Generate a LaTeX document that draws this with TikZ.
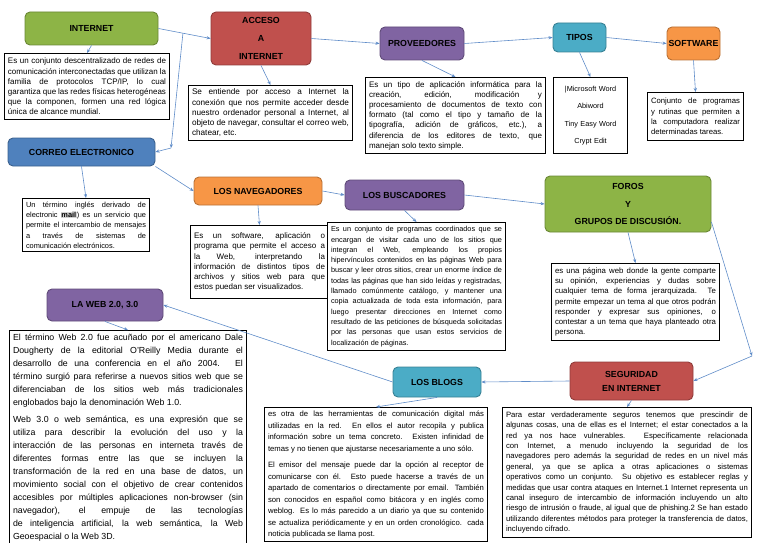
\documentclass[tikz,border=0pt]{standalone}
\usepackage{fontspec}
\setmainfont{Liberation Sans}
\usetikzlibrary{arrows.meta,calc}
\definecolor{cgreen}{RGB}{141,180,70}
\definecolor{cred}{RGB}{192,80,77}
\definecolor{cpurple}{RGB}{128,100,162}
\definecolor{cteal}{RGB}{75,172,198}
\definecolor{corange}{RGB}{247,150,70}
\definecolor{cblue}{RGB}{79,129,189}
\definecolor{arrowblue}{RGB}{95,140,200}
\hyphenpenalty=10000
\exhyphenpenalty=10000
\tolerance=9999
\emergencystretch=3em
\newcommand{\lb}{\linebreak}
\tikzset{
  hbox/.style={rounded corners=5pt, draw=#1!75!black, fill=#1, line width=0.9pt,
    font=\bfseries\fontsize{8.8}{10}\selectfont, align=center, inner sep=1pt},
  tbox/.style={draw=black, line width=1pt, fill=white, align=justify, inner sep=3.5pt,
    anchor=north west},
  fs/.style={font=\fontsize{#1}{10.2}\selectfont},
  arr/.style={-{Stealth[length=4pt,width=3.2pt]}, draw=arrowblue, line width=0.6pt}
}
\begin{document}
\begin{tikzpicture}[x=1pt,y=-1pt]
\useasboundingbox (0,0) rectangle (768,543);

% heading boxes
\node[hbox=cgreen, minimum width=133pt, minimum height=33pt] (internet) at (91.5,28.5) {INTERNET};
\node[hbox=cred, minimum width=100pt, minimum height=53pt, font=\bfseries\fontsize{8.8}{18}\selectfont] (acceso) at (261,38.5) {ACCESO\\A\\INTERNET};
\node[hbox=cpurple, minimum width=84pt, minimum height=33pt] (prov) at (422,43.5) {PROVEEDORES};
\node[hbox=cteal, minimum width=53pt, minimum height=29pt] (tipos) at (579.5,37.5) {TIPOS};
\node[hbox=corange, minimum width=53pt, minimum height=33pt, inner sep=0pt] (soft) at (693.5,43.5) {SOFTWARE};
\node[hbox=cblue, minimum width=147pt, minimum height=28pt] (correo) at (81.5,152) {CORREO ELECTRONICO};
\node[hbox=corange, minimum width=128pt, minimum height=28pt] (nav) at (258,191) {LOS NAVEGADORES};
\node[hbox=cpurple, minimum width=119pt, minimum height=30pt] (busc) at (404.5,195) {LOS BUSCADORES};
\node[hbox=cgreen, minimum width=166pt, minimum height=56pt, font=\bfseries\fontsize{8.8}{17.5}\selectfont] (foros) at (628,204) {FOROS\\Y\\GRUPOS DE DISCUSIÓN.};
\node[hbox=cpurple, minimum width=116pt, minimum height=32pt] (laweb) at (105,305) {LA WEB 2.0, 3.0};
\node[hbox=cteal, minimum width=88pt, minimum height=30pt] (blogs) at (437,382) {LOS BLOGS};
\node[hbox=cred, minimum width=123pt, minimum height=38pt, font=\bfseries\fontsize{8.8}{14}\selectfont] (seg) at (631.5,381) {SEGURIDAD\\EN INTERNET};

% text boxes
\node[tbox, fs=8, text width=158pt, minimum height=66pt] (tinternet) at (4,53) {Es un conjunto descentralizado de redes de\lb comunicación interconectadas que utilizan la\lb familia de protocolos TCP/IP, lo cual\lb garantiza que las redes físicas heterogéneas\lb que la componen, formen una red lógica\lb única de alcance mundial.};
\node[tbox, fs=8.2, text width=157pt, minimum height=53pt] (tacceso) at (188,85) {Se entiende por acceso a Internet la\lb conexión que nos permite acceder desde\lb nuestro ordenador personal a Internet, al\lb objeto de navegar, consultar el correo web,\lb chatear, etc.};
\node[tbox, fs=8, text width=173pt, minimum height=76pt] (tprov) at (365,77) {Es un tipo de aplicación informática para la\lb creación, edición, modificación y\lb procesamiento de documentos de texto con\lb formato (tal como el tipo y tamaño de la\lb tipografía, adición de gráficos, etc.), a\lb diferencia de los editores de texto, que\lb manejan solo texto simple.};
\node[tbox, font=\fontsize{7.3}{17.5}\selectfont, align=center, text width=67pt, minimum height=76pt] (ttipos) at (553,77) {|Microsoft Word\\Abiword\\Tiny Easy Word\\Crypt Edit};
\node[tbox, fs=7.7, text width=89pt, minimum height=48pt] (tsoft) at (647,92) {Conjunto de programas\lb y rutinas que permiten a\lb la computadora realizar\lb determinadas tareas.};
\node[tbox, fs=7.4, text width=120pt, minimum height=52pt] (tcorreo) at (22,198) {Un término inglés derivado de\lb electronic {\setlength{\fboxsep}{0.5pt}\colorbox{gray!35}{\bfseries mail}}) es un servicio que\lb permite el intercambio de mensajes\lb a través de sistemas de\lb comunicación electrónicos.};
\node[tbox, fs=8, text width=131pt, minimum height=73pt] (tnav) at (190,225) {Es un software, aplicación o\lb programa que permite el acceso a\lb la Web, interpretando la\lb información de distintos tipos de\lb archivos y sitios web para que\lb estos puedan ser visualizados.};
\node[tbox, font=\fontsize{7.3}{10.3}\selectfont, text width=171pt, minimum height=128pt] (tbusc) at (327,222) {Es un conjunto de programas coordinados que se\lb encargan de visitar cada uno de los sitios que\lb integran el Web, empleando los propios\lb hipervínculos contenidos en las páginas Web para\lb buscar y leer otros sitios, crear un enorme índice de\lb todas las páginas que han sido leídas y registradas,\lb llamado comúnmente catálogo, y mantener una\lb copia actualizada de toda esta información, para\lb luego presentar direcciones en Internet como\lb resultado de las peticiones de búsqueda solicitadas\lb por las personas que usan estos servicios de\lb localización de páginas.};
\node[tbox, fs=7.8, text width=161pt, minimum height=77pt] (tforos) at (551,263) {es una página web donde la gente comparte\lb su opinión, experiencias y dudas sobre\lb cualquier tema de forma jerarquizada. Te\lb permite empezar un tema al que otros podrán\lb responder y expresar sus opiniones, o\lb contestar a un tema que haya planteado otra\lb persona.};
\node[tbox, font=\fontsize{8.8}{13}\selectfont, text width=230pt, minimum height=208pt] (tweb) at (9,330) {El término Web 2.0 fue acuñado por el americano Dale\lb Dougherty de la editorial O'Reilly Media durante el\lb desarrollo de una conferencia en el año 2004. El\lb término surgió para referirse a nuevos sitios web que se\lb diferenciaban de los sitios web más tradicionales\lb englobados bajo la denominación Web 1.0.\par\vspace{4pt}Web 3.0 o web semántica, es una expresión que se\lb utiliza para describir la evolución del uso y la\lb interacción de las personas en interneta través de\lb diferentes formas entre las que se incluyen la\lb transformación de la red en una base de datos, un\lb movimiento social con el objetivo de crear contenidos\lb accesibles por múltiples aplicaciones non-browser (sin\lb navegador), el empuje de las tecnologías\lb de inteligencia artificial, la web semántica, la Web\lb Geoespacial o la Web 3D.};
\node[tbox, font=\fontsize{7.7}{11.5}\selectfont, text width=216pt, minimum height=132pt] (tblogs) at (264,407) {es otra de las herramientas de comunicación digital más\lb utilizadas en la red. En ellos el autor recopila y publica\lb información sobre un tema concreto. Existen infinidad de\lb temas y no tienen que ajustarse necesariamente a uno sólo.\par\vspace{5pt}El emisor del mensaje puede dar la opción al receptor de\lb comunicarse con él. Esto puede hacerse a través de un\lb apartado de comentarios o directamente por email. También\lb son conocidos en español como bitácora y en inglés como\lb weblog. Es lo más parecido a un diario ya que su contenido\lb se actualiza periódicamente y en un orden cronológico. cada\lb noticia publicada se llama post.};
\node[tbox, font=\fontsize{7.7}{10.4}\selectfont, text width=242pt, minimum height=130pt] (tseg) at (502,407) {Para estar verdaderamente seguros tenemos que prescindir de\lb algunas cosas, una de ellas es el Internet; el estar conectados a la\lb red ya nos hace vulnerables. Específicamente relacionada\lb con Internet, a menudo incluyendo la seguridad de los\lb navegadores pero además la seguridad de redes en un nivel más\lb general, ya que se aplica a otras aplicaciones o sistemas\lb operativos como un conjunto. Su objetivo es establecer reglas y\lb medidas que usar contra ataques en Internet.1 Internet representa un\lb canal inseguro de intercambio de información incluyendo un alto\lb riesgo de intrusión o fraude, al igual que de phishing.2 Se han estado\lb utilizando diferentes métodos para proteger la transferencia de datos,\lb incluyendo cifrado.};

% connectors
\coordinate (j1) at ($(internet.east)!0.47!(acceso.west)$);
\coordinate (j2) at (171,148);
\coordinate (j3) at (752,356);
\draw[arr] (internet.east) -- (acceso.west);
\draw[arr] (j1) -- (j2);
\draw[arr] (j2) -- (correo.east);
\draw[arr] (internet.south) -- (tinternet.north);
\draw[arr] (acceso.east) -- (prov.west);
\draw[arr] (acceso.south) -- (tacceso.north);
\draw[arr] (prov.east) -- (tipos.west);
\draw[arr] (prov.south) -- (tprov.north);
\draw[arr] (tipos.east) -- (soft.west);
\draw[arr] (tipos.south) -- (ttipos.north);
\draw[arr] (soft.south) -- (tsoft.north);
\draw[arr] (correo.south) -- (tcorreo.north);
\draw[arr] (correo.south east) -- (nav.west);
\draw[arr] (nav.east) -- (busc.west);
\draw[arr] (nav.south) -- (tnav.north);
\draw[arr] (busc.east) -- (foros.west);
\draw[arr] (busc.south) -- (tbusc.north);
\draw[arr] (foros.south) -- (tforos.north);
\draw[arr] ([yshift=-18pt]foros.east) -- (j3);
\draw[arr] (j3) -- (seg.east);
\draw[arr] (seg.west) -- (blogs.east);
\draw[arr] (seg.south) -- (tseg.north);
\draw[arr] (blogs.west) -- (laweb.east);
\draw[arr] (blogs.south) -- (tblogs.north);
\draw[arr] (laweb.south) -- (tweb.north);
\end{tikzpicture}
\end{document}
